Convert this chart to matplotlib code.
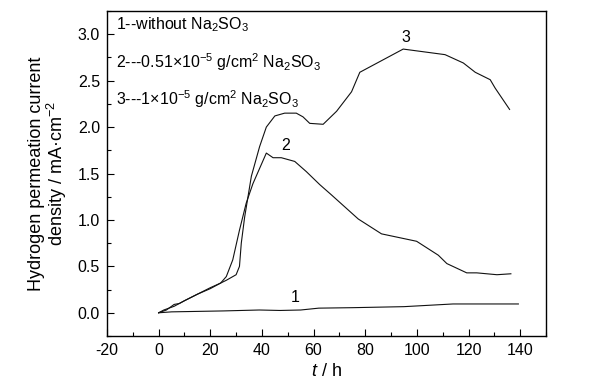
import matplotlib
matplotlib.use("Agg")
import matplotlib.pyplot as plt
from matplotlib.ticker import MultipleLocator

plt.rcParams['font.family'] = ['Liberation Sans', 'DejaVu Sans']
plt.rcParams['mathtext.fontset'] = 'custom'
plt.rcParams['mathtext.rm'] = 'Liberation Sans'
plt.rcParams['mathtext.it'] = 'Liberation Sans:italic'
plt.rcParams['mathtext.bf'] = 'Liberation Sans:bold'
plt.rcParams['axes.unicode_minus'] = False

# Curve 1: without Na2SO3
t1 = [0, 5, 15, 25, 39, 47, 55, 62, 75, 95, 114, 139.3]
j1 = [0.0, 0.01, 0.015, 0.02, 0.03, 0.025, 0.03, 0.05, 0.055, 0.066, 0.095, 0.095]

# Curve 2: 0.51e-5 g/cm2 Na2SO3
t2 = [0, 2, 6, 10, 15, 20, 24, 26.2, 28.7, 31.3, 33.9, 36.5, 41.7, 44.3, 47.5,
      52.7, 57.2, 62.4, 66.9, 77.3, 86.3, 99.9, 108.3, 111.6, 119.3, 123.2, 131, 136.4]
j2 = [0, 0.03, 0.07, 0.13, 0.2, 0.26, 0.32, 0.39, 0.57, 0.89, 1.18, 1.39, 1.72, 1.67, 1.67,
      1.63, 1.52, 1.38, 1.27, 1.01, 0.85, 0.77, 0.62, 0.53, 0.43, 0.43, 0.41, 0.42]

# Curve 3: 1e-5 g/cm2 Na2SO3
t3 = [0, 3, 6, 8, 10, 15, 20, 24, 26.2, 30, 31.3, 32, 33.3, 35.9, 39.1, 41.7, 45, 48.8,
      53.3, 55.9, 58.5, 63.7, 68.9, 74.7, 77.9, 94.7, 110.9, 118, 122.6, 128.4, 130.3, 135.9]
j3 = [0, 0.03, 0.09, 0.1, 0.13, 0.2, 0.27, 0.32, 0.35, 0.41, 0.5, 0.75, 1.03, 1.47, 1.79, 2.0, 2.12, 2.15,
      2.15, 2.11, 2.04, 2.03, 2.17, 2.38, 2.59, 2.84, 2.78, 2.69, 2.59, 2.51, 2.42, 2.19]

legend_lines = ["1--without Na$_2$SO$_3$",
                "2---0.51\u00d710$^{-5}$ g/cm$^2$ Na$_2$SO$_3$",
                "3---1\u00d710$^{-5}$ g/cm$^2$ Na$_2$SO$_3$"]
curve_labels = ["1", "2", "3"]

fig = plt.figure(figsize=(5.99, 3.90), dpi=100)
ax = fig.add_axes([107/599, 1-336/390, (546-107)/599, (336-11)/390])

lw = 0.8
ax.plot(t1, j1, color='#111111', lw=lw)
ax.plot(t2, j2, color='#111111', lw=lw)
ax.plot(t3, j3, color='#111111', lw=lw)

ax.set_xlim(-20, 150)
ax.set_ylim(-0.25, 3.25)
ax.xaxis.set_major_locator(MultipleLocator(20))
ax.xaxis.set_minor_locator(MultipleLocator(10))
ax.yaxis.set_major_locator(MultipleLocator(0.5))
ax.yaxis.set_minor_locator(MultipleLocator(0.25))
ax.yaxis.set_major_formatter(matplotlib.ticker.FormatStrFormatter('%.1f'))
ax.tick_params(which='both', direction='in', top=False, right=False, labelsize=11.5, colors='black')
ax.tick_params(which='major', length=5, width=0.8, pad=5)
ax.tick_params(which='minor', length=3, width=0.8)
for s in ax.spines.values():
    s.set_linewidth(1.0)

ax.set_xlabel("$t$ / h", fontsize=13, labelpad=4)
ax.set_ylabel("Hydrogen permeation current\ndensity / mA\u00b7cm$^{-2}$", fontsize=13,
              linespacing=1.0, labelpad=6)

ys = [3.10, 2.70, 2.30]
for txt, y in zip(legend_lines, ys):
    ax.text(-16.4, y, txt, fontsize=11.5, va='center', ha='left')

ax.text(52.7, 0.16, curve_labels[0], fontsize=11.5, ha='center', va='center')
ax.text(49.2, 1.80, curve_labels[1], fontsize=11.5, ha='center', va='center')
ax.text(95.8, 2.97, curve_labels[2], fontsize=11.5, ha='center', va='center')

fig.savefig("out.png", dpi=100)
